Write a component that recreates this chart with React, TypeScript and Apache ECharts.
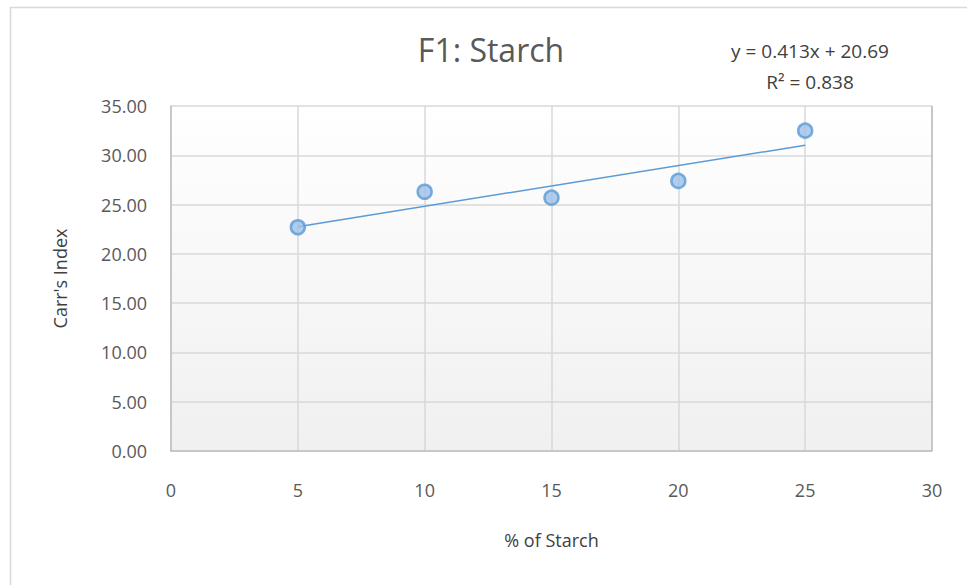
import React, { useEffect, useRef } from "react";
import * as echarts from "echarts";

const starchPct = [5, 10, 15, 20, 25];
const carrIndex = [22.7, 26.3, 25.7, 27.4, 32.5];
const trendX = [5, 25];
const trendY = [22.76, 31.02];
const titleText = "F1: Starch";
const eqLine1 = "y = 0.413x + 20.69";
const eqLine2 = "R² = 0.838";

export default function App() {
  const ref = useRef<HTMLDivElement>(null);
  useEffect(() => {
    document.body.style.margin = "0";
    const chart = echarts.init(ref.current!, null, { renderer: "svg" });
    const font = "'Open Sans', 'DejaVu Sans', sans-serif";
    chart.setOption({
      animation: false,
      backgroundColor: "#ffffff",
      graphic: [
        { type: "rect", shape: { x: 10.5, y: 7.5, width: 1000, height: 700 }, style: { fill: "none", stroke: "#d9d9d9", lineWidth: 1.5 }, silent: true, z: -1 },
        { type: "text", x: 491, y: 33, style: { text: titleText, fontFamily: font, fontSize: 32, fill: "#595959", textAlign: "center" } },
        { type: "text", x: 810, y: 41, style: { text: eqLine1, fontFamily: font, fontSize: 19, fill: "#404040", textAlign: "center" } },
        { type: "text", x: 810, y: 72, style: { text: eqLine2, fontFamily: font, fontSize: 19, fill: "#404040", textAlign: "center" } },
        { type: "line", shape: { x1: 932, y1: 106, x2: 932, y2: 451 }, style: { stroke: "#bfbfbf", lineWidth: 1.5 }, z: 5 },
      ],
      grid: {
        left: 171,
        right: 35,
        top: 106,
        bottom: 134,
        show: true,
        borderWidth: 0,
        backgroundColor: new echarts.graphic.LinearGradient(0, 0, 0, 1, [
          { offset: 0, color: "#ffffff" },
          { offset: 1, color: "#f0f0f0" },
        ]),
      },
      xAxis: {
        type: "value",
        min: 0,
        max: 30,
        interval: 5,
        name: "% of Starch",
        nameLocation: "middle",
        nameGap: 80,
        nameTextStyle: { fontFamily: font, fontSize: 18, color: "#404040" },
        axisLine: { show: true, lineStyle: { color: "#bfbfbf", width: 1.5 } },
        axisTick: { show: false },
        axisLabel: { fontFamily: font, fontSize: 18, color: "#595959", margin: 30 },
        splitLine: { show: true, lineStyle: { color: "#d9d9d9", width: 1.5 } },
      },
      yAxis: {
        type: "value",
        min: 0,
        max: 35,
        interval: 5,
        name: "Carr's Index",
        nameLocation: "middle",
        nameGap: 102,
        nameTextStyle: { fontFamily: font, fontSize: 18, color: "#404040" },
        axisLine: { show: true, lineStyle: { color: "#bfbfbf", width: 1.5 } },
        axisTick: { show: false },
        axisLabel: { fontFamily: font, fontSize: 18, color: "#595959", margin: 24, formatter: (v: number) => v.toFixed(2) },
        splitLine: { show: true, lineStyle: { color: "#d9d9d9", width: 1.5 } },
      },
      series: [
        {
          type: "line",
          data: trendX.map((x, i) => [x, trendY[i]]),
          symbol: "none",
          lineStyle: { color: "#5b9bd5", width: 1.5 },
          z: 2,
        },
        {
          type: "scatter",
          data: starchPct.map((x, i) => [x, carrIndex[i]]),
          symbol: "circle",
          symbolSize: 14,
          itemStyle: { color: "#9dc0e8", borderColor: "#5b9bd5", borderWidth: 2.5 },
          z: 3,
        },
      ],
    });
    return () => chart.dispose();
  }, []);
  return <div ref={ref} style={{ width: 967, height: 585 }} />;
}
